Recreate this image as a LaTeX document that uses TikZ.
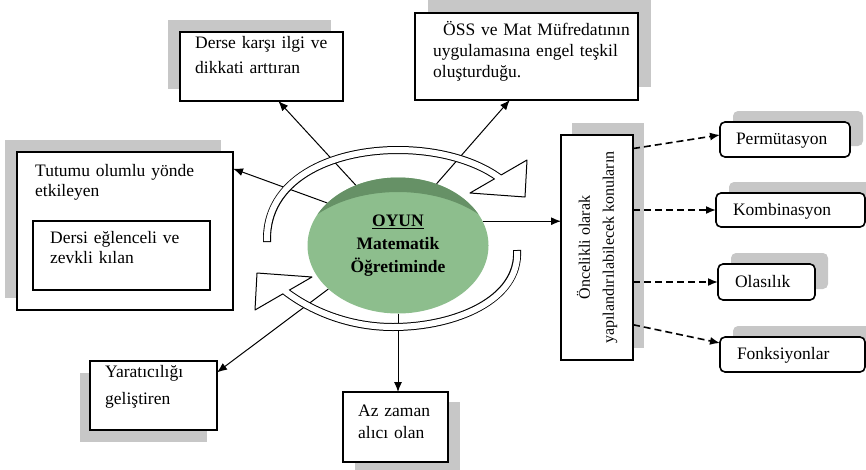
\documentclass[tikz,border=0pt]{standalone}
\usepackage{fontspec}
\setmainfont{Liberation Serif}
\usetikzlibrary{arrows.meta,shapes.geometric,shadows}
\definecolor{domelight}{RGB}{141,190,141}
\definecolor{domedark}{RGB}{102,145,102}

\begin{document}
\begin{tikzpicture}[x=1pt,y=-1pt,
	box/.style={draw, line width=1.2pt, fill=white, inner sep=0pt, outer sep=0pt, anchor=north west},
	rbox/.style={box, rounded corners=5pt, line width=1.6pt, inner xsep=16pt, align=left,
		text height=15pt, text depth=5pt, font=\fontsize{17.5}{21}\selectfont},
	shd/.style 2 args={drop shadow={shadow xshift=#1, shadow yshift=#2, opacity=1, fill=black!22}},
	txt/.style={anchor=base west, inner sep=0pt, text width=240pt, align=left, font=\fontsize{17.5}{#1}\selectfont},
	arr/.style={-{Latex[length=10pt,width=8pt]}, line width=1pt},
	dasharr/.style={-{Latex[length=10pt,width=8pt]}, line width=1.6pt, dash pattern=on 7pt off 4pt}]
	\useasboundingbox (0,0) rectangle (866,469);

	% boxes round the game
	\node[box, shd={-12pt}{12pt}, minimum width=163pt, minimum height=69pt] (derse) at (180,32) {};
	\node[txt=25] (derse-t) at (195,48) {Derse karşı ilgi ve\\dikkati arttıran};
	\node[box, shd={13pt}{13pt}, minimum width=223pt, minimum height=87pt] (oss) at (415,13) {};
	\node[txt=21] (oss-t) at (433,35) {\hspace*{10pt}ÖSS ve Mat Müfredatının\\uygulamasına engel teşkil\\oluşturduğu.};
	\node[box, shd={-12pt}{12pt}, minimum width=216pt, minimum height=158pt] (tutumu) at (17,152) {};
	\node[txt=20] (tutumu-t) at (35,176) {Tutumu olumlu yönde\\etkileyen};
	\node[box, line width=1.8pt, minimum width=177pt, minimum height=69pt] (eglence) at (33,221) {};
	\node[txt=20] (eglence-t) at (50,243) {Dersi eğlenceli ve\\zevkli kılan};
	\node[box, shd={-10pt}{-12pt}, minimum width=127pt, minimum height=69pt] (yarat) at (90,361) {};
	\node[txt=27] (yarat-t) at (105,377) {Yaratıcılığı\\geliştiren};
	\node[box, shd={12pt}{-10pt}, minimum width=105pt, minimum height=70pt] (az) at (343,392) {};
	\node[txt=22] (az-t) at (358,416) {Az zaman\\alıcı olan};

	% topics
	\node[box, shd={11pt}{12pt}, minimum width=72pt, minimum height=225pt] (oncelik) at (561,135) {};
	\node[rotate=90, align=center, inner sep=0pt, font=\fontsize{16}{24}\selectfont] (oncelik-t) at (oncelik.center)
		{Öncelikli olarak\\yapılandırılabilecek konuların};
	\node[rbox, shd={13pt}{11pt}, minimum width=130pt, minimum height=35pt, text width=98pt] (perm) at (720,122) {Permütasyon};
	\node[rbox, shd={13pt}{11pt}, minimum width=149pt, minimum height=34pt, text width=115pt, inner xsep=17pt] (komb) at (716,193) {Kombinasyon};
	\node[rbox, shd={13pt}{11pt}, minimum width=97pt, minimum height=36pt, text width=63pt, inner xsep=17pt] (olas) at (718,264) {Olasılık};
	\node[rbox, shd={13pt}{11pt}, minimum width=145pt, minimum height=35pt, text width=111pt, inner xsep=17pt] (fonk) at (720,337) {Fonksiyonlar};

	% the game
	\node[ellipse, fill=domelight, minimum width=181pt, minimum height=136pt, inner sep=0pt, align=center,
		font=\bfseries\fontsize{17.5}{23}\selectfont,
		path picture={\fill[domedark, even odd rule]
			([shift={(-10pt,10pt)}]path picture bounding box.north west) rectangle
			([shift={(10pt,-10pt)}]path picture bounding box.south east)
			([yshift=-16.5pt]path picture bounding box.center) ellipse [x radius=110pt, y radius=70pt];}]
		(oyun) at (398,245.5) {\underline{OYUN}\\Matematik\\Öğretiminde};

	\draw[arr] (oyun.125) -- (derse.-64);
	\draw[arr] (oyun.58) -- (oss.-111);
	\draw[arr] (oyun.149) -- (tutumu.30);
	\draw[arr] (oyun.212) -- (yarat.20);
	\draw[arr] (oyun.south) -- (oyun.south |- az.north);
	\draw[arr] (oyun.16) -- (oyun.16 -| oncelik.west);

	\draw[dasharr] (oncelik.70) -- (perm.176);
	\draw[dasharr] (oncelik.east |- komb.west) -- (komb.west);
	\draw[dasharr] (oncelik.east |- olas.west) -- (olas.west);
	\draw[dasharr] (oncelik.-65.6) -- (fonk.171);

	% turning arrows
	\draw[line width=8pt] (267,242) .. controls (265,180) and (330,150) .. (398,150) .. controls (445,150) and (482,164) .. (502,180);
	\filldraw[fill=white, line width=1pt, line join=round] (525,197) -- (470,193) -- (527,160) -- cycle;
	\draw[white, line width=6pt, shorten <=1pt] (267,242) .. controls (265,180) and (330,150) .. (398,150) .. controls (445,150) and (482,164) .. (502,180);

	\draw[line width=8pt] (517,250) .. controls (520,300) and (455,327) .. (393,327) .. controls (345,327) and (306,308) .. (283,289.5);
	\filldraw[fill=white, line width=1pt, line join=round] (257,273) -- (312,277) -- (255,310) -- cycle;
	\draw[white, line width=6pt, shorten <=1pt] (517,250) .. controls (520,300) and (455,327) .. (393,327) .. controls (345,327) and (306,308) .. (283,289.5);
\end{tikzpicture}
\end{document}
